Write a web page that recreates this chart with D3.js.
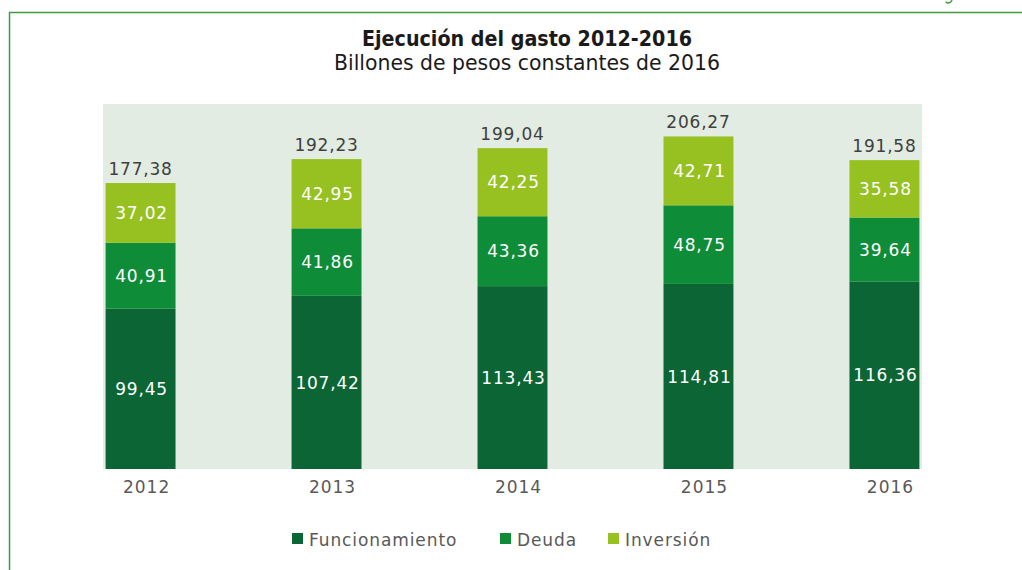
<!DOCTYPE html>
<html>
<head>
<meta charset="utf-8">
<script src="https://cdn.jsdelivr.net/npm/d3@7"></script>
<style>
  body { margin: 0; background: #fff; }
  svg { display: block; }
</style>
</head>
<body>
<svg id="chart"></svg>
<script>
// Ejecución del gasto 2012-2016 (billones de pesos constantes de 2016)

const years = ["2012", "2013", "2014", "2015", "2016"];
const funcionamiento = [99.45, 107.42, 113.43, 114.81, 116.36];
const deuda = [40.91, 41.86, 43.36, 48.75, 39.64];
const inversion = [37.02, 42.95, 42.25, 42.71, 35.58];
const totals = [177.38, 192.23, 199.04, 206.27, 191.58];
const seriesNames = ["Funcionamiento", "Deuda", "Inversión"];
const seriesColors = ["#0b6535", "#0f8c38", "#97c121"];

const width = 1022, height = 570;
const plot = {left: 103, right: 922, top: 104, bottom: 469};

const svg = d3.select("#chart")
    .attr("width", width)
    .attr("height", height);

// frame lines of the page
svg.append("line")
    .attr("x1", 9).attr("x2", width).attr("y1", 12.5).attr("y2", 12.5)
    .attr("stroke", "#3f9c46").attr("stroke-width", 1.5);
svg.append("line")
    .attr("x1", 9.5).attr("x2", 9.5).attr("y1", 12).attr("y2", height)
    .attr("stroke", "#3f9c46").attr("stroke-width", 1.5);
// tail of a glyph from the page header, cut by the top edge
svg.append("path")
    .attr("d", "M952,0 Q951,3 948,3 Q946,3 946,1.5")
    .attr("fill", "none")
    .attr("stroke", "#3f9c46").attr("stroke-width", 1.4);

// titles
svg.append("text")
    .attr("x", 527).attr("y", 46)
    .attr("text-anchor", "middle")
    .attr("textLength", 330).attr("lengthAdjust", "spacingAndGlyphs")
    .attr("fill", "#1a1a1a")
    .style("font", "bold 22px 'Liberation Sans Narrow', 'DejaVu Sans Condensed', sans-serif")
    .text("Ejecución del gasto 2012-2016");
svg.append("text")
    .attr("x", 527).attr("y", 70)
    .attr("text-anchor", "middle")
    .attr("textLength", 386).attr("lengthAdjust", "spacingAndGlyphs")
    .attr("fill", "#1a1a1a")
    .style("font", "21px 'Liberation Sans Narrow', 'DejaVu Sans Condensed', sans-serif")
    .text("Billones de pesos constantes de 2016");

// plot background
svg.append("rect")
    .attr("x", plot.left).attr("y", plot.top)
    .attr("width", plot.right - plot.left)
    .attr("height", plot.bottom - plot.top)
    .attr("fill", "#e2ece2");

const x = d3.scaleBand()
    .domain(years)
    .range([plot.left, plot.right])
    .paddingInner(0.624)
    .paddingOuter(0.014);

const y = d3.scaleLinear()
    .domain([0, 226.4])
    .range([plot.bottom, plot.top]);

const table = years.map((yr, i) => ({
    year: yr,
    Funcionamiento: funcionamiento[i],
    Deuda: deuda[i],
    "Inversión": inversion[i],
    total: totals[i]
}));

const stack = d3.stack().keys(seriesNames)(table);
const fmt = v => v.toFixed(2).replace(".", ",");
const labelFont = "17px 'DejaVu Sans', Verdana, sans-serif";

const layers = svg.append("g")
    .selectAll("g")
    .data(stack)
    .join("g")
    .attr("fill", (d, i) => seriesColors[i]);

layers.selectAll("rect")
    .data(d => d)
    .join("rect")
    .attr("x", d => x(d.data.year))
    .attr("y", d => y(d[1]))
    .attr("width", x.bandwidth())
    .attr("height", d => y(d[0]) - y(d[1]));

// values inside segments
svg.append("g")
    .selectAll("g")
    .data(stack)
    .join("g")
    .selectAll("text")
    .data(d => d.map(s => ({s, v: s[1] - s[0]})))
    .join("text")
    .attr("x", d => x(d.s.data.year) + x.bandwidth() / 2 + 1)
    .attr("y", d => (y(d.s[0]) + y(d.s[1])) / 2)
    .attr("dy", "0.36em")
    .attr("text-anchor", "middle")
    .attr("fill", "#ffffff")
    .attr("letter-spacing", 0.8)
    .style("font", labelFont)
    .text(d => fmt(d.v));

// totals above bars
svg.append("g")
    .selectAll("text")
    .data(table)
    .join("text")
    .attr("x", d => x(d.year) + x.bandwidth() / 2)
    .attr("y", d => y(d.total) - 8)
    .attr("text-anchor", "middle")
    .attr("fill", "#404040")
    .attr("letter-spacing", 0.8)
    .style("font", labelFont)
    .text(d => fmt(d.total));

// category axis
const xAxis = svg.append("g")
    .attr("transform", `translate(6,${plot.bottom})`)
    .call(d3.axisBottom(x).tickSize(0).tickPadding(8));
xAxis.select(".domain").remove();
xAxis.selectAll("text")
    .attr("fill", "#595959")
    .attr("dy", "0.95em")
    .attr("letter-spacing", 1)
    .style("font", labelFont);

// legend
const legendX = [292, 500, 608];
const legend = svg.append("g")
    .selectAll("g")
    .data(seriesNames)
    .join("g")
    .attr("transform", (d, i) => `translate(${legendX[i]},533)`);
legend.append("rect")
    .attr("width", 11).attr("height", 11)
    .attr("fill", (d, i) => seriesColors[i]);
legend.append("text")
    .attr("x", 17).attr("y", 13)
    .attr("fill", "#595959")
    .attr("letter-spacing", 0.9)
    .style("font", labelFont)
    .text(d => d);
</script>
</body>
</html>
